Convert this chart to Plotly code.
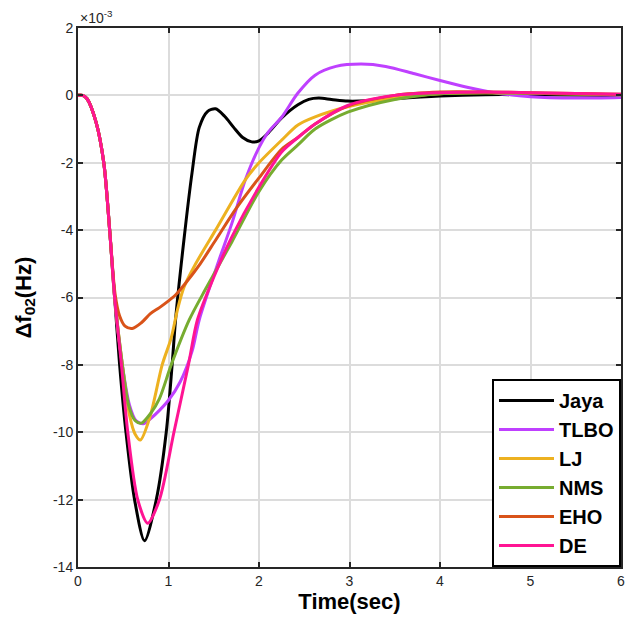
import plotly.graph_objects as go

# values in units of 1e-3 Hz
jaya_t = [0, 0.05, 0.1, 0.2, 0.285, 0.35, 0.405, 0.46, 0.53, 0.625, 0.735, 0.865, 0.975, 1.04, 1.08, 1.17, 1.26, 1.34, 1.43, 1.52, 1.62, 1.72, 1.82, 1.92, 2.0, 2.1, 2.25, 2.43, 2.55, 2.66, 2.8, 2.98, 3.2, 3.5, 4.0, 4.5, 5.0, 6.0]
jaya_y = [0, 0, -0.1, -0.8, -2.0, -4.0, -6.0, -8.0, -10.0, -12.0, -13.22, -12.0, -10.0, -8.0, -6.6, -4.3, -2.3, -0.95, -0.48, -0.4, -0.62, -0.95, -1.25, -1.38, -1.35, -1.12, -0.67, -0.28, -0.12, -0.08, -0.12, -0.17, -0.16, -0.1, -0.02, 0.02, 0.02, 0.0]

tlbo_t = [0, 0.05, 0.1, 0.2, 0.285, 0.35, 0.405, 0.49, 0.57, 0.64, 0.72, 0.8, 0.9, 1.0, 1.13, 1.26, 1.34, 1.55, 1.7, 1.85, 2.0, 2.1, 2.25, 2.43, 2.62, 2.85, 3.13, 3.4, 3.72, 4.0, 4.3, 4.6, 5.0, 5.5, 6.0]
tlbo_y = [0, 0, -0.1, -0.8, -2.0, -4.0, -6.0, -8.0, -9.2, -9.65, -9.75, -9.6, -9.35, -9.05, -8.5, -7.6, -6.66, -4.95, -3.8, -2.5, -1.55, -1.1, -0.65, 0.07, 0.6, 0.86, 0.93, 0.86, 0.64, 0.44, 0.24, 0.08, -0.04, -0.08, -0.06]

lj_t = [0, 0.05, 0.1, 0.2, 0.285, 0.35, 0.405, 0.49, 0.57, 0.63, 0.69, 0.8, 0.93, 1.03, 1.1, 1.17, 1.3, 1.52, 1.85, 2.0, 2.25, 2.43, 2.62, 2.98, 3.5, 4.0, 4.5, 5.0, 6.0]
lj_y = [0, 0, -0.1, -0.8, -2.0, -4.0, -6.0, -8.0, -9.5, -10.05, -10.23, -9.5, -8.0, -7.2, -6.35, -5.7, -5.0, -4.0, -2.5, -2.0, -1.33, -0.88, -0.64, -0.34, -0.08, 0.05, 0.08, 0.06, 0.02]

nms_t = [0, 0.05, 0.1, 0.2, 0.285, 0.35, 0.405, 0.49, 0.56, 0.63, 0.7, 0.8, 0.9, 1.03, 1.23, 1.41, 1.7, 2.0, 2.25, 2.43, 2.62, 2.98, 3.5, 4.0, 4.5, 5.0, 6.0]
nms_y = [0, 0, -0.1, -0.8, -2.0, -4.0, -6.0, -8.0, -9.2, -9.65, -9.73, -9.45, -9.0, -8.0, -6.66, -5.75, -4.35, -2.85, -1.92, -1.47, -1.0, -0.5, -0.12, 0.05, 0.08, 0.06, 0.02]

eho_t = [0, 0.05, 0.1, 0.2, 0.285, 0.35, 0.41, 0.46, 0.52, 0.6, 0.7, 0.8, 0.9, 1.0, 1.08, 1.19, 1.35, 1.52, 1.75, 2.0, 2.25, 2.43, 2.62, 2.98, 3.5, 4.0, 4.5, 5.0, 6.0]
eho_y = [0, 0, -0.1, -0.8, -2.0, -4.0, -5.9, -6.55, -6.85, -6.92, -6.75, -6.48, -6.3, -6.1, -5.92, -5.57, -5.0, -4.3, -3.35, -2.45, -1.6, -1.25, -0.85, -0.32, 0.0, 0.1, 0.1, 0.08, 0.03]

de_t = [0, 0.05, 0.1, 0.2, 0.285, 0.35, 0.405, 0.48, 0.55, 0.66, 0.77, 0.9, 1.06, 1.22, 1.32, 1.5, 1.7, 2.0, 2.25, 2.43, 2.62, 2.98, 3.5, 4.0, 4.5, 5.0, 6.0]
de_y = [0, 0, -0.1, -0.8, -2.0, -4.0, -6.0, -8.0, -10.0, -12.0, -12.7, -12.0, -10.0, -8.0, -6.66, -5.4, -4.2, -2.72, -1.68, -1.25, -0.85, -0.3, 0.0, 0.08, 0.1, 0.08, 0.03]

names = ["Jaya", "TLBO", "LJ", "NMS", "EHO", "DE"]
colors = ["#000000", "#BF40FF", "#EDB120", "#77AC30", "#D95319", "#FF1493"]
series = [(jaya_t, jaya_y), (tlbo_t, tlbo_y), (lj_t, lj_y), (nms_t, nms_y), (eho_t, eho_y), (de_t, de_y)]

x_ticks = [0, 1, 2, 3, 4, 5, 6]
y_ticks = [-14, -12, -10, -8, -6, -4, -2, 0, 2]

FONT = "Arial, Liberation Sans, sans-serif"

fig = go.Figure()
for name, color, (t, y) in zip(names, colors, series):
    fig.add_trace(go.Scatter(x=t, y=y, mode="lines", name="<b>" + name + "</b>",
                             line=dict(color=color, width=3, shape="spline", smoothing=0.8)))

axis_common = dict(showgrid=True, gridcolor="#dcdcdc", gridwidth=2,
                   showline=True, linecolor="#262626", linewidth=2, mirror="allticks",
                   ticks="inside", ticklen=5, tickwidth=2, tickcolor="#262626",
                   tickfont=dict(family=FONT, size=14, color="#262626"),
                   ticklabeloverflow="allow", zeroline=False)

fig.update_xaxes(range=[0, 6], tickvals=x_ticks, ticktext=[str(v) for v in x_ticks],
                 title=dict(text="<b>Time(sec)</b>", font=dict(family=FONT, size=22, color="#000000"), standoff=6),
                 **axis_common)
fig.update_yaxes(range=[-14, 2], tickvals=y_ticks, ticktext=[str(v) for v in y_ticks],
                 **axis_common)

# y-axis title placed as rotated annotation
fig.add_annotation(x=0, y=0.5, xref="paper", yref="paper", xanchor="center", yanchor="middle",
                   xshift=-54, textangle=-90, showarrow=False,
                   text="<b>Δf<sub>02</sub>(Hz)</b>",
                   font=dict(family=FONT, size=22, color="#000000"))

fig.add_annotation(x=0, y=1, xref="paper", yref="paper", xanchor="left", yanchor="bottom",
                   text="×10<sup>-3</sup>", showarrow=False,
                   font=dict(family=FONT, size=14, color="#262626"))

fig.update_layout(
    width=626, height=627,
    margin=dict(l=78, r=1, t=28, b=60),
    paper_bgcolor="white", plot_bgcolor="white",
    legend=dict(x=1, y=0, xanchor="right", yanchor="bottom",
                bgcolor="white", bordercolor="#000000", borderwidth=2,
                font=dict(family=FONT, size=20, color="#000000"),
                tracegroupgap=0, itemwidth=55),
    showlegend=True,
)

fig.write_html("out.html")
